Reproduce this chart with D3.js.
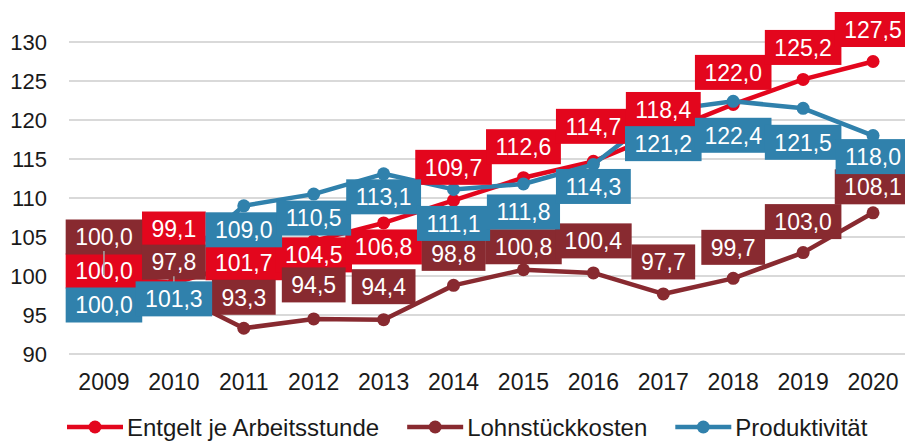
<!DOCTYPE html>
<html>
<head>
<meta charset="utf-8">
<script src="https://cdn.jsdelivr.net/npm/d3@7"></script>
<style>
  body { margin: 0; background: #fff; }
  svg text { font-family: "Liberation Sans", Arial, sans-serif; }
</style>
</head>
<body>
<div id="chart"></div>
<script>
// data
var years = ["2009","2010","2011","2012","2013","2014","2015","2016","2017","2018","2019","2020"];
var entgelt = [100.0, 99.1, 101.7, 104.5, 106.8, 109.7, 112.6, 114.7, 118.4, 122.0, 125.2, 127.5];
var lohnstueck = [100.0, 97.8, 93.3, 94.5, 94.4, 98.8, 100.8, 100.4, 97.7, 99.7, 103.0, 108.1];
var produktivitaet = [100.0, 101.3, 109.0, 110.5, 113.1, 111.1, 111.8, 114.3, 121.2, 122.4, 121.5, 118.0];
var yTicks = [90, 95, 100, 105, 110, 115, 120, 125, 130];

// label placement (pixel shift of each data label relative to its point, like the manual moves in the original)
var labelShift = {
  entgelt:        [-5, -54, 0, 14, 24, -33, -31, -35, -23, -32, -32, -32],
  lohnstueck:     [-39, -31, -31, -34, -33, -32, -23, -32, -32, -31, -31, -26],
  produktivitaet: [29, 33, 24, 24, 23, 34, 28, 22, 33, 34, 34, 21]
};

var series = [
  {key: "entgelt", name: "Entgelt je Arbeitsstunde", values: entgelt, color: "#E3061D"},
  {key: "lohnstueck", name: "Lohnstückkosten", values: lohnstueck, color: "#882A30"},
  {key: "produktivitaet", name: "Produktivität", values: produktivitaet, color: "#3081AC"}
];

var width = 905, height = 443;
var svg = d3.select("#chart").append("svg")
  .attr("width", width)
  .attr("height", height);

var x = d3.scalePoint()
  .domain(years)
  .range([69, 908])
  .padding(0.5);

var y = d3.scaleLinear()
  .domain([90, 130])
  .range([354, 42]);

// gridlines
svg.append("g")
  .selectAll("line")
  .data(yTicks)
  .enter()
  .append("line")
  .attr("x1", 69)
  .attr("x2", 908)
  .attr("y1", d => y(d))
  .attr("y2", d => y(d))
  .attr("stroke", "#d9d9d9")
  .attr("stroke-width", 2);

// y axis labels
svg.append("g")
  .selectAll("text")
  .data(yTicks)
  .enter()
  .append("text")
  .attr("x", 47)
  .attr("y", d => y(d))
  .attr("dy", "0.36em")
  .attr("text-anchor", "end")
  .style("font-size", "22px")
  .style("fill", "#1a1a1a")
  .text(d => d);

// x axis labels
svg.append("g")
  .selectAll("text")
  .data(years)
  .enter()
  .append("text")
  .attr("x", d => x(d))
  .attr("y", 382)
  .attr("dy", "0.36em")
  .attr("text-anchor", "middle")
  .style("font-size", "23px")
  .style("fill", "#1a1a1a")
  .text(d => d);

var line = d3.line()
  .x((d, i) => x(years[i]))
  .y(d => y(d));

// lines + markers
series.forEach(function(s) {
  var g = svg.append("g");
  g.append("path")
    .attr("d", line(s.values))
    .attr("fill", "none")
    .attr("stroke", s.color)
    .attr("stroke-width", 4.5)
    .attr("stroke-linejoin", "round");
  g.selectAll("circle")
    .data(s.values)
    .enter()
    .append("circle")
    .attr("cx", (d, i) => x(years[i]))
    .attr("cy", d => y(d))
    .attr("r", 6.5)
    .attr("fill", s.color);
});

var fmt = function(v) { return d3.format(".1f")(v).replace(".", ","); };

// data labels in filled boxes
series.forEach(function(s) {
  var g = svg.append("g");
  s.values.forEach(function(v, i) {
    var cx = x(years[i]);
    var cy = y(v) + labelShift[s.key][i];
    var lg = g.append("g");
    var t = lg.append("text")
      .attr("x", cx)
      .attr("y", cy)
      .attr("dy", "0.36em")
      .attr("text-anchor", "middle")
      .style("font-size", "23px")
      .style("fill", "#fff")
      .text(fmt(v));
    var w = t.node().getComputedTextLength() + 19;
    lg.insert("rect", "text")
      .attr("x", cx - w / 2)
      .attr("y", cy - 17.5)
      .attr("width", w)
      .attr("height", 35)
      .attr("fill", s.color);
  });
  // leader lines for the labels pushed far from their point
  if (s.key == "lohnstueck") {
    [0, 1].forEach(function(i) {
      g.append("line")
        .attr("x1", x(years[i]))
        .attr("x2", x(years[i]))
        .attr("y1", y(s.values[i]) + labelShift[s.key][i] + 14)
        .attr("y2", y(s.values[i]) - 1)
        .attr("stroke", "#a6a6a6")
        .attr("stroke-width", 1.5);
    });
  }
});

// legend (lifted a little so the text is not clipped at the bottom edge)
var legend = svg.append("g");
var lx = 67, ly = 427;
series.forEach(function(s) {
  legend.append("line")
    .attr("x1", lx).attr("x2", lx + 56)
    .attr("y1", ly).attr("y2", ly)
    .attr("stroke", s.color)
    .attr("stroke-width", 4.5);
  legend.append("circle")
    .attr("cx", lx + 28).attr("cy", ly)
    .attr("r", 6.5)
    .attr("fill", s.color);
  var t = legend.append("text")
    .attr("x", lx + 60)
    .attr("y", ly)
    .attr("dy", "0.36em")
    .style("font-size", "24px")
    .style("fill", "#1a1a1a")
    .text(s.name);
  lx += 60 + t.node().getComputedTextLength() + 28;
});
</script>
</body>
</html>
